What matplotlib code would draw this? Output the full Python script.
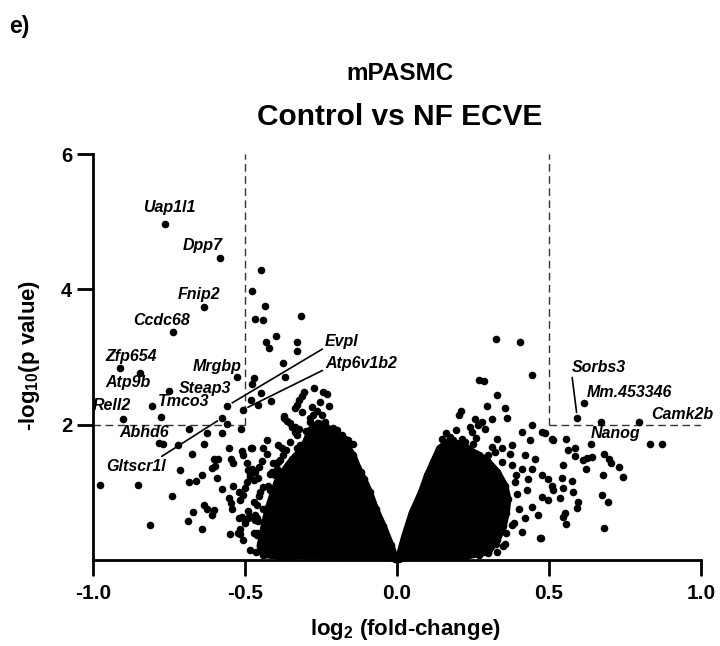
#!/usr/bin/env python3
"""Volcano plot: mPASMC, Control vs NF ECVE."""

import matplotlib

matplotlib.use("Agg", force=True)
import matplotlib.pyplot as plt

# labelled genes (log2 fold-change, -log10 p)
gene_names = ["Uap1l1", "Dpp7", "Fnip2", "Ccdc68", "Zfp654", "Atp9b", "Steap3", "Tmco3",
              "Rell2", "Mrgbp", "Evpl", "Atp6v1b2", "Abhd6", "Gltscr1l",
              "Sorbs3", "Mm.453346", "Camk2b", "Nanog"]
gene_x = [-0.763, -0.582, -0.635, -0.737, -0.910, -0.847, -0.750, -0.805,
          -0.900, -0.527, -0.558, -0.507, -0.784, -0.575,
          0.593, 0.616, 0.795, 0.672]
gene_y = [4.97, 4.46, 3.74, 3.37, 2.84, 2.77, 2.50, 2.27,
          2.09, 2.70, 2.28, 2.22, 1.73, 2.10,
          2.10, 2.32, 2.04, 2.04]

# individually visible genes, down-regulated side
down_x = [-0.448, -0.477, -0.434, -0.467, -0.442, -0.315, -0.399, -0.430, -0.420, -0.329,
          -0.329, -0.375, -0.368, -0.472, -0.476, -0.448, -0.479, -0.458, -0.413, -0.273,
          -0.244, -0.229, -0.306, -0.313, -0.321, -0.330, -0.336, -0.253, -0.223, -0.281,
          -0.311, -0.373, -0.363, -0.346, -0.336, -0.330, -0.275, -0.248, -0.237, -0.259,
          -0.286, -0.198, -0.193, -0.171, -0.144, -0.155, -0.133, -0.105, -0.429, -0.440,
          -0.429, -0.390, -0.379, -0.374, -0.385, -0.407, -0.371, -0.352, -0.336, -0.323,
          -0.352, -0.330, -0.319, -0.336, -0.357, -0.396, -0.401, -0.478, -0.478, -0.467,
          -0.472, -0.456, -0.440, -0.418, -0.451, -0.461, -0.440, -0.467, -0.456, -0.429,
          -0.461, -0.445, -0.418, -0.429, -0.401, -0.385,
          -0.558, -0.684, -0.626, -0.575, -0.513, -0.775, -0.769, -0.719, -0.635, -0.674,
          -0.714, -0.977, -0.853, -0.683, -0.660, -0.640, -0.741, -0.813, -0.670, -0.686,
          -0.640, -0.635, -0.626, -0.602, -0.610, -0.603, -0.590, -0.610, -0.600, -0.591,
          -0.575, -0.552, -0.545, -0.539, -0.509, -0.505, -0.480, -0.539, -0.553, -0.546,
          -0.542, -0.520, -0.548, -0.515, -0.522, -0.516, -0.445, -0.481, -0.467, -0.489,
          -0.461, -0.472, -0.461, -0.451, -0.519, -0.484, -0.454, -0.418, -0.445, -0.494,
          -0.489, -0.484, -0.494, -0.500, -0.516, -0.505, -0.511,
          -0.262, -0.285, -0.300, -0.210, -0.180, -0.160, -0.120, -0.345, -0.365, -0.390,
          -0.410, -0.425, -0.455, -0.470, -0.490, -0.500, -0.505, -0.485, -0.465, -0.435]
down_y = [4.28, 3.98, 3.75, 3.56, 3.54, 3.61, 3.31, 3.22, 3.14, 3.22,
          3.09, 2.91, 2.70, 2.69, 2.60, 2.47, 2.36, 2.29, 2.35, 2.54,
          2.48, 2.46, 2.49, 2.43, 2.36, 2.29, 2.25, 2.33, 2.28, 2.26,
          2.18, 2.13, 2.05, 1.97, 1.89, 1.84, 2.14, 2.14, 2.04, 1.97,
          2.04, 1.92, 1.75, 1.79, 1.72, 1.55, 1.38, 1.11, 1.77, 1.65,
          1.57, 1.70, 1.65, 1.55, 1.48, 1.43, 2.10, 2.03, 1.97, 1.93,
          1.75, 1.65, 1.70, 1.53, 1.40, 1.35, 1.26, 1.65, 1.35, 1.30,
          1.18, 1.21, 1.08, 1.03, 1.01, 0.81, 0.76, 0.67, 0.57, 0.47,
          0.40, 0.23, 0.32, 0.27, 0.25, 0.37,
          2.01, 1.93, 1.87, 1.87, 1.93, 2.12, 1.71, 1.70, 1.71, 1.57,
          1.33, 1.11, 1.11, 1.16, 1.17, 1.25, 0.95, 0.51, 0.71, 0.57,
          0.46, 0.81, 0.76, 0.74, 0.66, 1.50, 1.50, 1.36, 1.39, 1.21,
          1.05, 1.66, 1.50, 1.44, 1.61, 1.55, 1.66, 1.10, 0.91, 0.84,
          0.76, 0.62, 0.38, 0.38, 0.40, 0.46, 0.24, 0.63, 0.59, 0.62,
          0.62, 0.40, 0.37, 0.23, 1.00, 1.23, 1.38, 1.27, 1.46, 1.43,
          1.33, 1.26, 1.16, 1.06, 0.89, 0.96, 0.64,
          2.20, 2.10, 1.90, 1.95, 1.85, 1.78, 1.30, 1.50, 1.62, 1.45,
          1.30, 1.10, 0.95, 0.85, 0.72, 0.55, 0.30, 0.15, 0.12, 0.10]

# individually visible genes, up-regulated side
up_x = [0.326, 0.403, 0.445, 0.271, 0.287, 0.328, 0.297, 0.355, 0.361, 0.211,
        0.205, 0.443, 0.257, 0.281, 0.312, 0.289, 0.268, 0.240, 0.246, 0.147,
        0.174, 0.185, 0.213, 0.224, 0.251, 0.229, 0.328, 0.344, 0.322, 0.312,
        0.377, 0.410, 0.438, 0.476, 0.509, 0.372, 0.421, 0.454, 0.377, 0.410,
        0.443, 0.476, 0.498, 0.509, 0.432, 0.388, 0.427, 0.476, 0.498, 0.443,
        0.465, 0.421, 0.377, 0.410, 0.470, 0.355, 0.322, 0.289, 0.257,
        0.487, 0.514, 0.556, 0.563, 0.586, 0.586, 0.637, 0.613, 0.624, 0.642,
        0.682, 0.699, 0.703, 0.730, 0.742, 0.621, 0.679, 0.545, 0.542, 0.575,
        0.545, 0.580, 0.675, 0.695, 0.596, 0.593, 0.553, 0.547, 0.556, 0.681,
        0.474, 0.326, 0.536, 0.514, 0.832, 0.872,
        0.160, 0.195, 0.260, 0.300, 0.345, 0.390, 0.395, 0.400, 0.385, 0.360,
        0.350, 0.330, 0.300, 0.270, 0.225, 0.190, 0.140]
up_y = [3.26, 3.22, 2.74, 2.66, 2.64, 2.44, 2.28, 2.24, 2.10, 2.20,
        2.14, 1.99, 2.09, 2.04, 2.09, 1.94, 1.99, 1.97, 1.89, 1.79,
        1.82, 1.77, 1.79, 1.75, 1.72, 1.65, 1.79, 1.65, 1.60, 1.67,
        1.70, 1.89, 1.77, 1.89, 1.79, 1.57, 1.55, 1.50, 1.40, 1.35,
        1.35, 1.25, 1.20, 1.10, 1.20, 1.15, 1.03, 0.93, 0.88, 0.79,
        0.66, 0.62, 0.52, 0.42, 0.32, 0.23, 0.25, 0.25, 0.13,
        1.87, 1.77, 1.79, 1.63, 1.65, 1.54, 1.71, 1.48, 1.51, 1.52,
        1.56, 1.50, 1.43, 1.37, 1.22, 1.34, 1.25, 1.41, 1.21, 1.17,
        1.06, 1.00, 0.96, 0.85, 0.85, 0.77, 0.70, 0.64, 0.53, 0.47,
        0.32, 0.23, 0.92, 1.03, 1.71, 1.71,
        1.88, 1.92, 1.80, 1.55, 1.45, 1.25, 0.98, 0.75, 0.55, 0.40,
        0.20, 0.12, 0.10, 0.08, 0.07, 0.06, 0.05]

# outline of the saturated (overplotted) cloud on each side
core_down_x = [-0.005, -0.02, -0.045, -0.07, -0.09, -0.11, -0.13, -0.145, -0.165, -0.19,
               -0.215, -0.24, -0.26, -0.285, -0.30, -0.32, -0.35, -0.375, -0.395, -0.41,
               -0.425, -0.435, -0.445, -0.45, -0.44, -0.38, -0.30, -0.18, -0.08]
core_down_y = [0.02, 0.22, 0.50, 0.75, 1.00, 1.20, 1.38, 1.55, 1.68, 1.80,
               1.90, 2.00, 2.02, 1.92, 1.75, 1.60, 1.45, 1.30, 1.15, 0.95,
               0.75, 0.55, 0.35, 0.20, 0.08, 0.05, 0.06, 0.04, 0.05]
core_up_x = [0.005, 0.025, 0.05, 0.08, 0.10, 0.12, 0.14, 0.17, 0.20, 0.24,
             0.27, 0.30, 0.33, 0.355, 0.365, 0.36, 0.35, 0.33, 0.30, 0.22, 0.12, 0.05]
core_up_y = [0.02, 0.35, 0.70, 1.00, 1.25, 1.45, 1.65, 1.75, 1.72, 1.62,
             1.55, 1.45, 1.30, 1.10, 0.90, 0.70, 0.50, 0.30, 0.12, 0.05, 0.06, 0.04]

x_ticks = [-1.0, -0.5, 0.0, 0.5, 1.0]
y_ticks = [2, 4, 6]
fc_cut = 0.5
p_cut = 2.0

# label anchor (text centre) for each gene, and optional leader-line settings
label_xy = {
    "Uap1l1": (-0.750, 5.21), "Dpp7": (-0.638, 4.65), "Fnip2": (-0.651, 3.93),
    "Ccdc68": (-0.776, 3.54), "Zfp654": (-0.875, 3.01), "Atp9b": (-0.885, 2.62),
    "Rell2": (-0.938, 2.28), "Tmco3": (-0.701, 2.34), "Steap3": (-0.632, 2.54),
    "Mrgbp": (-0.592, 2.86), "Abhd6": (-0.832, 1.88), "Gltscr1l": (-0.859, 1.38),
    "Evpl": (-0.181, 3.23), "Atp6v1b2": (-0.118, 2.91), "Sorbs3": (0.664, 2.85),
    "Mm.453346": (0.763, 2.47), "Camk2b": (0.939, 2.15), "Nanog": (0.720, 1.87),
}
leader_relpos = {"Evpl": (0.0, 0.1), "Atp6v1b2": (0.0, 0.1),
                 "Gltscr1l": (0.88, 1.05), "Sorbs3": (0.0, 0.0)}

FONT = "Liberation Sans"
DOT = 30


def main() -> None:
    plt.rcParams["font.family"] = [FONT, "DejaVu Sans"]
    plt.rcParams["font.weight"] = "bold"
    plt.rcParams["axes.unicode_minus"] = False
    plt.rcParams["mathtext.fontset"] = "custom"
    plt.rcParams["mathtext.rm"] = f"{FONT}:bold"
    plt.rcParams["mathtext.it"] = f"{FONT}:bold:italic"
    plt.rcParams["mathtext.bf"] = f"{FONT}:bold"
    plt.rcParams["mathtext.default"] = "rm"

    fig = plt.figure(figsize=(7.2, 6.46), dpi=100)
    ax = fig.add_axes([93 / 720, 86 / 646, 608 / 720, 406 / 646])

    for cx, cy in ((core_down_x, core_down_y), (core_up_x, core_up_y)):
        ax.fill(cx, cy, color="black", lw=5, joinstyle="round", clip_on=False, zorder=2)
        ax.scatter(cx, cy, s=DOT, color="black", lw=0, clip_on=False, zorder=3)
    ax.scatter(down_x, down_y, s=DOT, color="black", lw=0, clip_on=False, zorder=3)
    ax.scatter(up_x, up_y, s=DOT, color="black", lw=0, clip_on=False, zorder=3)
    ax.scatter(gene_x, gene_y, s=DOT, color="black", lw=0, clip_on=False, zorder=3)

    dash = dict(color="#333333", lw=1.0, dashes=(5.5, 3.2), zorder=1)
    ax.plot([-fc_cut, -fc_cut], [p_cut, 6], **dash)
    ax.plot([fc_cut, fc_cut], [p_cut, 6], **dash)
    ax.plot([-1, -fc_cut], [p_cut, p_cut], **dash)
    ax.plot([fc_cut, 1], [p_cut, p_cut], **dash)

    for name, gx, gy in zip(gene_names, gene_x, gene_y):
        tx, ty = label_xy[name]
        kw = dict(fontsize=11.5, fontweight="bold", fontstyle="italic",
                  ha="center", va="center", zorder=4, annotation_clip=False)
        if name in leader_relpos:
            kw["arrowprops"] = dict(arrowstyle="-", lw=1.2, color="black",
                                    relpos=leader_relpos[name], shrinkA=0, shrinkB=4)
        ax.annotate(name, xy=(gx, gy), xytext=(tx, ty), **kw)

    ax.set_xlim(-1, 1)
    ax.set_ylim(0, 6)
    ax.set_xticks(x_ticks)
    ax.set_xticklabels([f"{v:.1f}" for v in x_ticks])
    ax.set_yticks(y_ticks)
    for side in ("top", "right"):
        ax.spines[side].set_visible(False)
    for side in ("left", "bottom"):
        ax.spines[side].set_linewidth(2.0)
    ax.tick_params(axis="both", direction="out", length=11.5, width=2.0)
    ax.tick_params(axis="x", labelsize=15, pad=5.5)
    ax.tick_params(axis="y", labelsize=14.5, pad=3.5)

    fig.text(19 / 720, 1 - 27 / 646, "e)", fontsize=16.5, fontweight="bold",
             ha="center", va="center")
    fig.text(400 / 720, 1 - 73 / 646, "mPASMC", fontsize=17.5, fontweight="bold",
             ha="center", va="center")
    fig.text(400 / 720, 1 - 117 / 646, "Control vs NF ECVE", fontsize=21.5,
             fontweight="bold", ha="center", va="center")
    fig.text(405 / 720, 1 - 630 / 646, r"log$_2$ (fold-change)", fontsize=16,
             fontweight="bold", ha="center", va="center")
    fig.text(30 / 720, 1 - 355 / 646, r"-log$_{10}$(p value)", fontsize=16,
             fontweight="bold", ha="center", va="center", rotation=90)

    fig.savefig("out.png", dpi=100)
    plt.close(fig)


if __name__ == "__main__":
    main()
